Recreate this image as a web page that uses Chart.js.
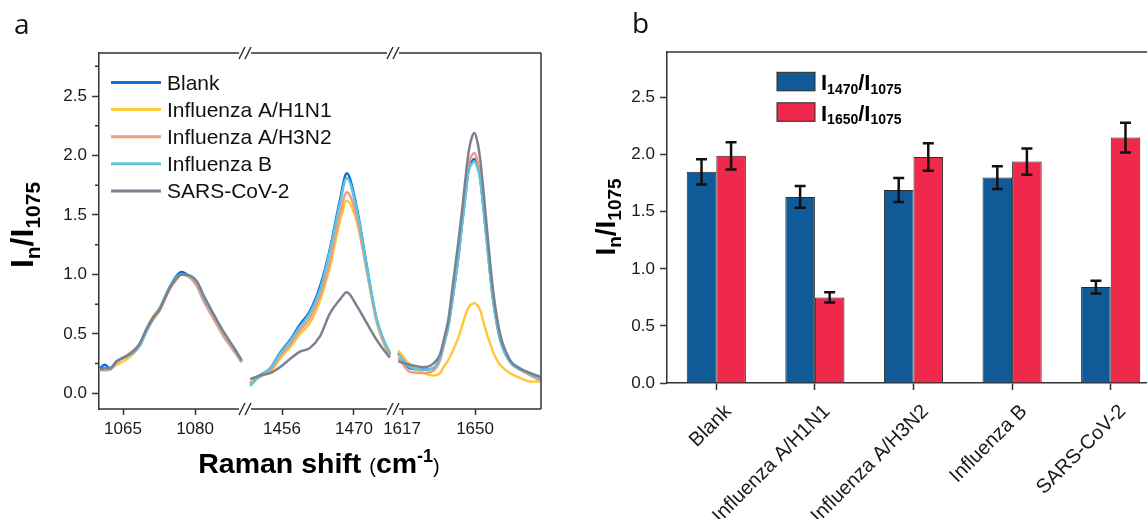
<!DOCTYPE html>
<html lang="en">
<head>
    <meta charset="UTF-8">
    <title>Raman ratios</title>
    <script src="https://cdn.jsdelivr.net/npm/chart.js"></script>
    <style>
        html, body {
            margin: 0;
            padding: 0;
            background: #fff;
            overflow: hidden;
        }
        body {
            width: 1147px;
            height: 519px;
            position: relative;
        }
        canvas {
            position: absolute;
            top: 0;
        }
        #chartA { left: 0; }
        #chartB { left: 560px; }
        .panel {
            position: absolute;
            font-family: 'Open Sans', sans-serif;
            font-size: 28px;
            line-height: 28px;
            color: #111;
        }
    </style>
</head>
<body>
    <canvas id="chartA" width="560" height="519"></canvas>
    <canvas id="chartB" width="610" height="519"></canvas>
    <div class="panel" style="left:14px; top:9px;">a</div>
    <div class="panel" style="left:632px; top:8px;">b</div>

    <script>
        // ---- panel a : spectra, three windows of the Raman shift axis ----
        const seriesNames = ['Blank', 'Influenza A/H1N1', 'Influenza A/H3N2', 'Influenza B', 'SARS-CoV-2'];

        const shiftLow = [1060.2, 1061.2, 1062.3, 1063.7, 1065.1, 1067.1, 1068.5, 1069.9, 1071.3, 1072.7, 1073.4,
            1074.8, 1076.2, 1077.2, 1079.0, 1080.4, 1081.7, 1083.8, 1085.9, 1088.0, 1089.7];
        const shiftMid = [1449.8, 1451.7, 1453.7, 1455.6, 1457.6, 1459.5, 1461.4, 1463.4, 1465.3, 1467.3, 1468.6,
            1470.5, 1472.5, 1474.4, 1475.7, 1477.0];
        const shiftHigh = [1615.3, 1620.6, 1626.6, 1631.1, 1634.2, 1635.7, 1637.9, 1640.2, 1642.5, 1644.0, 1645.5,
            1647.0, 1648.5, 1649.7, 1651.0, 1652.3, 1653.8, 1655.3, 1656.8, 1658.3, 1661.3, 1665.8, 1670.3, 1674.9, 1679.4];

        const blankLow = [0.21, 0.24, 0.21, 0.27, 0.30, 0.34, 0.41, 0.54, 0.64, 0.72, 0.78, 0.90, 0.99, 1.02, 0.98, 0.93, 0.82, 0.66, 0.50, 0.38, 0.27];
        const h1n1Low = [0.20, 0.19, 0.20, 0.24, 0.27, 0.33, 0.41, 0.54, 0.65, 0.72, 0.77, 0.89, 0.97, 1.00, 0.98, 0.93, 0.81, 0.65, 0.50, 0.37, 0.26];
        const h3n2Low = [0.20, 0.20, 0.21, 0.26, 0.30, 0.36, 0.42, 0.53, 0.62, 0.70, 0.76, 0.88, 0.96, 1.00, 0.97, 0.90, 0.78, 0.63, 0.48, 0.36, 0.26];
        const fluBLow = [0.19, 0.21, 0.20, 0.27, 0.30, 0.34, 0.40, 0.52, 0.63, 0.72, 0.78, 0.90, 0.98, 1.00, 0.98, 0.93, 0.81, 0.66, 0.51, 0.38, 0.27];
        const sarsLow = [0.20, 0.21, 0.21, 0.27, 0.30, 0.35, 0.42, 0.54, 0.64, 0.71, 0.77, 0.89, 0.97, 1.00, 0.99, 0.94, 0.83, 0.67, 0.52, 0.39, 0.28];

        const blankMid = [0.08, 0.15, 0.21, 0.34, 0.45, 0.58, 0.69, 0.90, 1.21, 1.63, 1.85, 1.57, 1.07, 0.62, 0.45, 0.33];
        const h1n1Mid = [0.07, 0.14, 0.18, 0.29, 0.39, 0.50, 0.59, 0.78, 1.06, 1.45, 1.62, 1.45, 1.03, 0.60, 0.43, 0.31];
        const h3n2Mid = [0.09, 0.14, 0.19, 0.31, 0.41, 0.53, 0.63, 0.82, 1.10, 1.51, 1.69, 1.49, 1.03, 0.61, 0.44, 0.32];
        const fluBMid = [0.06, 0.15, 0.21, 0.33, 0.44, 0.56, 0.67, 0.87, 1.19, 1.60, 1.81, 1.55, 1.06, 0.63, 0.46, 0.34];
        const sarsMid = [0.12, 0.15, 0.17, 0.22, 0.29, 0.35, 0.38, 0.48, 0.67, 0.79, 0.85, 0.74, 0.59, 0.45, 0.37, 0.30];

        const blankHigh = [0.34, 0.21, 0.20, 0.21, 0.30, 0.40, 0.57, 0.85, 1.16, 1.41, 1.65, 1.88, 1.95, 1.97, 1.92, 1.81, 1.56, 1.29, 1.01, 0.77, 0.46, 0.27, 0.20, 0.17, 0.13];
        const h1n1High = [0.36, 0.24, 0.17, 0.15, 0.17, 0.22, 0.28, 0.37, 0.47, 0.56, 0.65, 0.72, 0.75, 0.76, 0.74, 0.70, 0.60, 0.50, 0.42, 0.34, 0.24, 0.17, 0.13, 0.10, 0.10];
        const h3n2High = [0.30, 0.18, 0.17, 0.19, 0.28, 0.39, 0.57, 0.86, 1.18, 1.44, 1.68, 1.92, 2.00, 2.02, 1.96, 1.84, 1.58, 1.30, 1.01, 0.77, 0.46, 0.27, 0.20, 0.15, 0.11];
        const fluBHigh = [0.33, 0.22, 0.20, 0.21, 0.30, 0.40, 0.56, 0.84, 1.15, 1.40, 1.63, 1.86, 1.93, 1.95, 1.90, 1.80, 1.55, 1.28, 1.00, 0.76, 0.45, 0.26, 0.20, 0.16, 0.12];
        const sarsHigh = [0.27, 0.24, 0.22, 0.25, 0.33, 0.44, 0.62, 0.95, 1.28, 1.52, 1.78, 2.02, 2.15, 2.19, 2.12, 1.97, 1.70, 1.40, 1.10, 0.84, 0.50, 0.28, 0.21, 0.17, 0.14];

        const shiftTicks = [1065, 1080, 1456, 1470, 1617, 1650];
        const ratioTicks = [0, 0.5, 1, 1.5, 2, 2.5];

        // ---- panel b : peak ratios ----
        const groups = ['Blank', 'Influenza A/H1N1', 'Influenza A/H3N2', 'Influenza B', 'SARS-CoV-2'];
        const ratio1470 = [1.85, 1.63, 1.69, 1.80, 0.84];
        const err1470 = [0.11, 0.095, 0.105, 0.10, 0.055];
        const ratio1650 = [1.99, 0.75, 1.98, 1.94, 2.15];
        const err1650 = [0.12, 0.045, 0.12, 0.115, 0.13];

        const FONT = "Arial, 'Liberation Sans', sans-serif";
        const AXIS = '#333';
        const lineColors = ['#0a6fdc', '#ffc83c', '#f59a7c', '#62c3db', '#7b8190'];

        // broken axis: each window of wavenumbers gets its own stretch of a 0..442 axis
        const windows = [
            { from: 1060, to: 1090.4, u0: 0, u1: 146 },
            { from: 1448.8, to: 1477.6, u0: 146, u1: 294 },
            { from: 1612.9, to: 1679.8, u0: 294, u1: 442 }
        ];
        function toAxis(shift) {
            const w = windows.find(w => shift >= w.from && shift <= w.to) || windows[windows.length - 1];
            return w.u0 + (shift - w.from) / (w.to - w.from) * (w.u1 - w.u0);
        }

        function joinWindows(parts) {
            const pts = [];
            parts.forEach(([xs, ys], k) => {
                if (k > 0) pts.push({ x: toAxis(xs[0]) - 0.5, y: null });
                xs.forEach((s, i) => pts.push({ x: toAxis(s), y: ys[i] }));
            });
            return pts;
        }

        const spectra = [
            [[shiftLow, blankLow], [shiftMid, blankMid], [shiftHigh, blankHigh]],
            [[shiftLow, h1n1Low], [shiftMid, h1n1Mid], [shiftHigh, h1n1High]],
            [[shiftLow, h3n2Low], [shiftMid, h3n2Mid], [shiftHigh, h3n2High]],
            [[shiftLow, fluBLow], [shiftMid, fluBMid], [shiftHigh, fluBHigh]],
            [[shiftLow, sarsLow], [shiftMid, sarsMid], [shiftHigh, sarsHigh]]
        ];

        // text with sub/superscripts: parts = [text, size, bold, dy]
        function richWidth(ctx, parts) {
            let w = 0;
            parts.forEach(p => {
                ctx.font = (p[2] ? 'bold ' : '') + p[1] + 'px ' + FONT;
                w += ctx.measureText(p[0]).width;
            });
            return w;
        }
        function drawRich(ctx, parts, x, y) {
            parts.forEach(p => {
                ctx.font = (p[2] ? 'bold ' : '') + p[1] + 'px ' + FONT;
                ctx.fillText(p[0], x, y + (p[3] || 0));
                x += ctx.measureText(p[0]).width;
            });
        }
        function drawVertical(ctx, parts, x, cy) {
            ctx.save();
            ctx.translate(x, cy);
            ctx.rotate(-Math.PI / 2);
            drawRich(ctx, parts, -richWidth(ctx, parts) / 2, 0);
            ctx.restore();
        }

        const decorA = {
            id: 'decorA',
            afterDraw(chart) {
                const { ctx, chartArea: a, scales: { x, y } } = chart;
                ctx.save();
                ctx.strokeStyle = AXIS;
                ctx.lineWidth = 1.5;

                // frame with breaks
                const breaks = [146, 294].map(v => x.getPixelForValue(v));
                [a.top, a.bottom].forEach(yy => {
                    ctx.beginPath();
                    let start = a.left;
                    breaks.forEach(bx => {
                        ctx.moveTo(start, yy);
                        ctx.lineTo(bx - 6, yy);
                        start = bx + 6;
                    });
                    ctx.moveTo(start, yy);
                    ctx.lineTo(a.right, yy);
                    breaks.forEach(bx => {
                        [-3, 3].forEach(o => {
                            ctx.moveTo(bx + o - 3, yy + 6);
                            ctx.lineTo(bx + o + 3, yy - 6);
                        });
                    });
                    ctx.stroke();
                });
                ctx.beginPath();
                ctx.moveTo(a.right, a.top);
                ctx.lineTo(a.right, a.bottom);
                ctx.stroke();

                // minor ticks on the left axis
                ctx.beginPath();
                for (let v = 0.25; v < y.max; v += 0.5) {
                    const py = y.getPixelForValue(v);
                    ctx.moveTo(a.left - 4, py);
                    ctx.lineTo(a.left, py);
                }
                ctx.stroke();

                // legend
                ctx.fillStyle = '#111';
                ctx.textBaseline = 'alphabetic';
                chart.data.datasets.forEach((ds, i) => {
                    const cy = a.top + 29.5 + 27.1 * i;
                    ctx.strokeStyle = ds.borderColor;
                    ctx.lineWidth = 3;
                    ctx.beginPath();
                    ctx.moveTo(a.left + 12, cy);
                    ctx.lineTo(a.left + 62, cy);
                    ctx.stroke();
                    ctx.font = '21px ' + FONT;
                    ctx.fillText(ds.label, a.left + 68, cy + 7.5);
                });

                // axis titles
                ctx.fillStyle = '#000';
                drawVertical(ctx, [['I', 32, true], ['n', 21, true, 7], ['/I', 32, true], ['1075', 21, true, 7]], 33, 225);
                const xt = [['Raman shift ', 28.5, true], ['(', 20, false], ['cm', 28.5, true], ['-1', 18, true, -11], [')', 20, false]];
                drawRich(ctx, xt, 319 - richWidth(ctx, xt) / 2, 473);
                ctx.restore();
            }
        };

        new Chart(document.getElementById('chartA'), {
            type: 'line',
            data: {
                datasets: spectra.map((parts, i) => ({
                    label: seriesNames[i],
                    data: joinWindows(parts),
                    borderColor: lineColors[i],
                    borderWidth: 2.5,
                    pointRadius: 0,
                    cubicInterpolationMode: 'monotone',
                    order: spectra.length - 1 - i
                }))
            },
            options: {
                responsive: false,
                animation: false,
                layout: { padding: { left: 0, right: 19, top: 53, bottom: 0 } },
                plugins: { legend: { display: false }, tooltip: { enabled: false } },
                scales: {
                    x: {
                        type: 'linear',
                        min: 0,
                        max: 442,
                        afterBuildTicks: s => { s.ticks = shiftTicks.map(v => ({ value: toAxis(v) })); },
                        afterFit: s => { s.height = 110; },
                        ticks: {
                            callback: (v, i) => String(shiftTicks[i]),
                            font: { family: FONT, size: 17 },
                            color: '#1a1a1a',
                            padding: 4,
                            maxRotation: 0,
                            autoSkip: false
                        },
                        grid: { drawOnChartArea: false, tickLength: 6, tickColor: AXIS, tickWidth: 1.5 },
                        border: { display: false }
                    },
                    y: {
                        min: -0.132,
                        max: 2.862,
                        afterBuildTicks: s => { s.ticks = ratioTicks.map(v => ({ value: v })); },
                        afterFit: s => { s.width = 99; },
                        ticks: {
                            callback: v => v.toFixed(1),
                            font: { family: FONT, size: 17 },
                            color: '#1a1a1a',
                            padding: 5
                        },
                        grid: { drawOnChartArea: false, tickLength: 7, tickColor: AXIS, tickWidth: 1.5 },
                        border: { color: AXIS, width: 1.5 }
                    }
                }
            },
            plugins: [decorA]
        });

        // ---- panel b ----
        const errorBars = {
            id: 'errorBars',
            afterDatasetsDraw(chart) {
                const { ctx, scales: { y } } = chart;
                ctx.save();
                ctx.strokeStyle = '#111';
                ctx.lineWidth = 2.5;
                chart.data.datasets.forEach((ds, di) => {
                    chart.getDatasetMeta(di).data.forEach((bar, i) => {
                        const top = y.getPixelForValue(ds.data[i] + ds.errors[i]);
                        const bot = y.getPixelForValue(ds.data[i] - ds.errors[i]);
                        ctx.beginPath();
                        ctx.moveTo(bar.x, top);
                        ctx.lineTo(bar.x, bot);
                        ctx.moveTo(bar.x - 5.5, top);
                        ctx.lineTo(bar.x + 5.5, top);
                        ctx.moveTo(bar.x - 5.5, bot);
                        ctx.lineTo(bar.x + 5.5, bot);
                        ctx.stroke();
                    });
                });
                ctx.restore();
            }
        };

        const decorB = {
            id: 'decorB',
            afterDraw(chart) {
                const { ctx, chartArea: a } = chart;
                ctx.save();
                ctx.strokeStyle = AXIS;
                ctx.lineWidth = 1.5;
                ctx.beginPath();
                ctx.moveTo(a.left, a.top);
                ctx.lineTo(a.right, a.top);
                ctx.lineTo(a.right, a.bottom);
                ctx.stroke();

                // legend with subscripts
                const legendText = [
                    [['I', 22, true], ['1470', 14, true, 3.5], ['/I', 22, true], ['1075', 14, true, 3.5]],
                    [['I', 22, true], ['1650', 14, true, 3.5], ['/I', 22, true], ['1075', 14, true, 3.5]]
                ];
                chart.data.datasets.forEach((ds, i) => {
                    const by = a.top + 20.3 + 30.5 * i;
                    ctx.fillStyle = ds.backgroundColor;
                    ctx.fillRect(a.left + 110, by, 38, 18.5);
                    ctx.strokeStyle = '#2b2b2b';
                    ctx.lineWidth = 1;
                    ctx.strokeRect(a.left + 110, by, 38, 18.5);
                    ctx.fillStyle = '#000';
                    drawRich(ctx, legendText[i], a.left + 154, by + 18);
                });

                ctx.fillStyle = '#000';
                drawVertical(ctx, [['I', 28, true], ['n', 19, true, 6], ['/I', 28, true], ['1075', 19, true, 6]], 55, 217);
                ctx.restore();
            }
        };

        new Chart(document.getElementById('chartB'), {
            type: 'bar',
            data: {
                labels: groups,
                datasets: [
                    {
                        label: 'I1470/I1075',
                        data: ratio1470,
                        errors: err1470,
                        backgroundColor: '#105a98',
                        borderColor: '#2b2b2b',
                        borderWidth: 1,
                        categoryPercentage: 0.6,
                        barPercentage: 1
                    },
                    {
                        label: 'I1650/I1075',
                        data: ratio1650,
                        errors: err1650,
                        backgroundColor: '#f0284b',
                        borderColor: '#2b2b2b',
                        borderWidth: 1,
                        categoryPercentage: 0.6,
                        barPercentage: 1
                    }
                ]
            },
            options: {
                responsive: false,
                animation: false,
                layout: { padding: { left: 0, right: 10, top: 52, bottom: 0 } },
                plugins: { legend: { display: false }, tooltip: { enabled: false } },
                scales: {
                    x: {
                        afterFit: s => { s.height = 136; },
                        ticks: {
                            font: { family: FONT, size: 20 },
                            color: '#1a1a1a',
                            minRotation: 45,
                            maxRotation: 45,
                            autoSkip: false,
                            padding: 10,
                            labelOffset: 12
                        },
                        grid: { offset: false, drawOnChartArea: false, tickLength: 7, tickColor: AXIS, tickWidth: 1.5 },
                        border: { color: AXIS, width: 1.5 }
                    },
                    y: {
                        min: 0,
                        max: 2.9,
                        afterBuildTicks: s => { s.ticks = ratioTicks.map(v => ({ value: v })); },
                        afterFit: s => { s.width = 107; },
                        ticks: {
                            callback: v => v.toFixed(1),
                            font: { family: FONT, size: 17 },
                            color: '#1a1a1a',
                            padding: 5
                        },
                        grid: { drawOnChartArea: false, tickLength: 7, tickColor: AXIS, tickWidth: 1.5 },
                        border: { color: AXIS, width: 1.5 }
                    }
                }
            },
            plugins: [errorBars, decorB]
        });
    </script>
</body>
</html>
